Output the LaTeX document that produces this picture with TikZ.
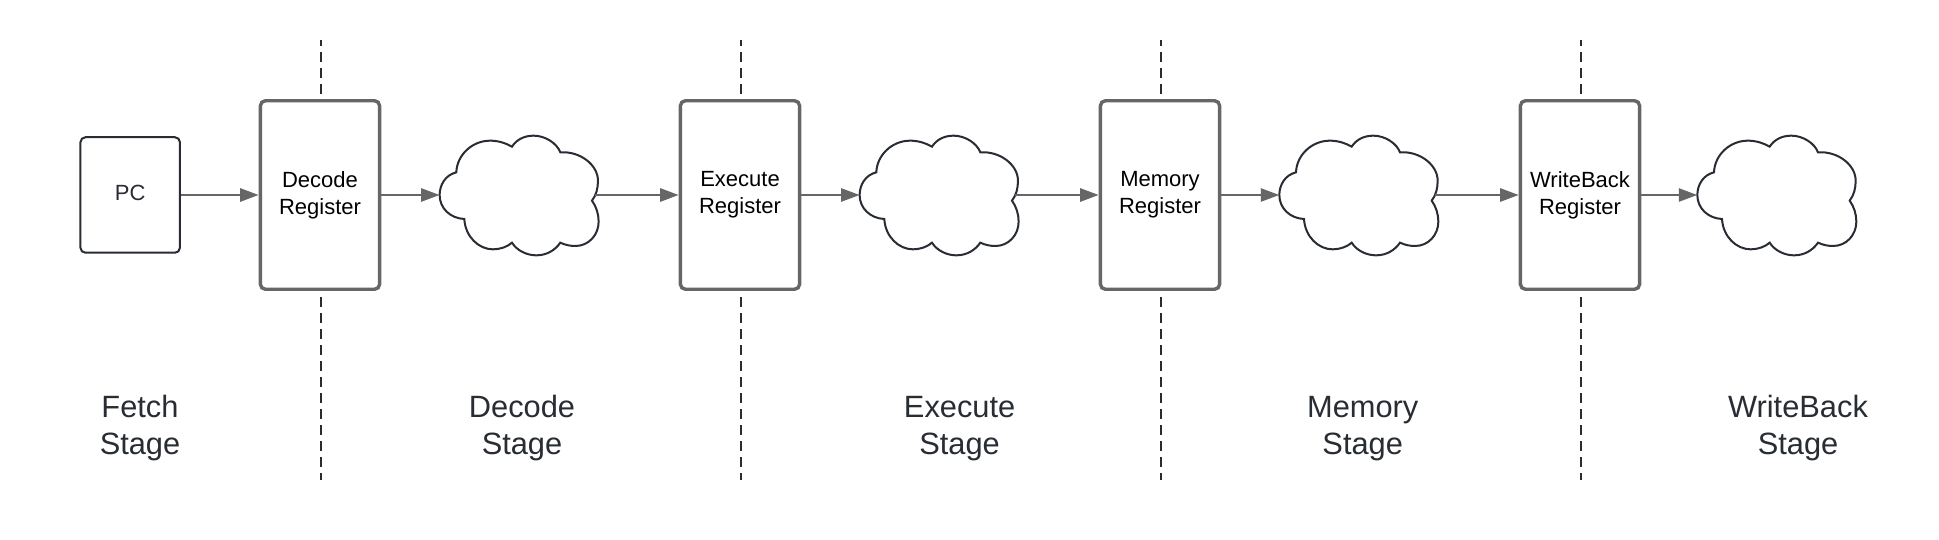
\documentclass[tikz,border=0pt]{standalone}
\usepackage{fontspec}
\setmainfont{Liberation Sans}
\usetikzlibrary{arrows.meta}
\definecolor{boxgray}{HTML}{666666}
\definecolor{inkdark}{HTML}{282C33}
\tikzset{
  regbox/.style={draw=boxgray,line width=3.4pt,rounded corners=5pt,minimum width=119.2pt,minimum height=188.5pt,inner sep=0pt,align=center,text=black,font=\fontsize{22}{26.7}\selectfont},
  pcbox/.style={draw=inkdark,line width=2pt,rounded corners=5pt,minimum width=99.5pt,minimum height=115.5pt,inner sep=0pt,text=inkdark,font=\fontsize{22}{26.7}\selectfont},
  stagelabel/.style={inner sep=0pt,align=center,text=inkdark,font=\fontsize{30.8}{37}\selectfont},
  flow/.style={draw=boxgray,line width=2.5pt,-{Triangle[length=18.5pt,width=13pt,fill=boxgray]}},
  divider/.style={draw=inkdark,line width=2pt},
  cloudshape/.pic={
    \draw[draw=inkdark,line width=2pt,scale=1/3,line join=miter]
      (108,187) .. controls (75,195) and (58,225) .. (58,255)
      .. controls (58,295) and (90,325) .. (132,327)
      .. controls (135,380) and (175,418) .. (218,418)
      .. controls (240,418) and (262,410) .. (275,398)
      .. controls (290,422) and (320,436) .. (348,436)
      .. controls (380,436) and (405,420) .. (420,398)
      .. controls (435,405) and (450,408) .. (465,408)
      .. controls (505,408) and (535,375) .. (535,335)
      .. controls (535,312) and (528,290) .. (515,272)
      .. controls (528,255) and (533,235) .. (533,212)
      .. controls (533,165) and (480,123) .. (420,127)
      .. controls (410,100) and (375,77) .. (340,77)
      .. controls (310,77) and (288,90) .. (275,110)
      .. controls (258,100) and (235,92) .. (210,92)
      .. controls (155,92) and (110,135) .. (108,187) -- cycle;
    \coordinate (-w) at (58/3,255/3);
    \coordinate (-e) at (175,255/3);
  }
}
\begin{document}
\begin{tikzpicture}[x=1pt,y=-1pt]
\useasboundingbox (0,0) rectangle (1939,540);
\fill[white] (0,0) rectangle (1939,540);
% nodes
\node[pcbox] (pc) at (130.2,195) {\raisebox{4.5pt}{PC}};
\node[regbox] (r1) at (320,195) {Decode\\Register};
\node[regbox] (r2) at (740,195) {Execute\\Register};
\node[regbox] (r3) at (1160,195) {Memory\\Register};
\node[regbox] (r4) at (1580,195) {WriteBack\\Register};
\pic (c1) at (420.3,110) {cloudshape};
\pic (c2) at (840.3,110) {cloudshape};
\pic (c3) at (1260,110) {cloudshape};
\pic (c4) at (1678,110) {cloudshape};
\node[stagelabel] (s0) at (140,428.5) {Fetch\\Stage};
\node[stagelabel] (s1) at (522,428.5) {Decode\\Stage};
\node[stagelabel] (s2) at (959.6,428.5) {Execute\\Stage};
\node[stagelabel] (s3) at (1362.7,428.5) {Memory\\Stage};
\node[stagelabel] (s4) at (1798,428.5) {WriteBack\\Stage};
% divider ends
\coordinate (t1) at (321,40);
\coordinate (t2) at (741,40);
\coordinate (t3) at (1161,40);
\coordinate (t4) at (1580.7,40);
\coordinate (b1) at (321,480);
\coordinate (b2) at (741,480);
\coordinate (b3) at (1161,480);
\coordinate (b4) at (1580.7,480);
\foreach \n in {1,2,3,4}{
  \draw[divider,dash pattern=on 10pt off 6pt,dash phase=4pt] (t\n) -- (t\n |- r\n.north);
  \draw[divider,dash pattern=on 10pt off 6pt,dash phase=10pt] (t\n |- r\n.south) -- (b\n);
}
% flow
\draw[flow] (pc.east |- r1.west) -- (r1.west);
\draw[flow] (r1.east) -- (c1-w);
\draw[flow] (c1-e) -- (r2.west);
\draw[flow] (r2.east) -- (c2-w);
\draw[flow] (c2-e) -- (r3.west);
\draw[flow] (r3.east) -- (c3-w);
\draw[flow] (c3-e) -- (r4.west);
\draw[flow] (r4.east) -- (c4-w);
\end{tikzpicture}
\end{document}
